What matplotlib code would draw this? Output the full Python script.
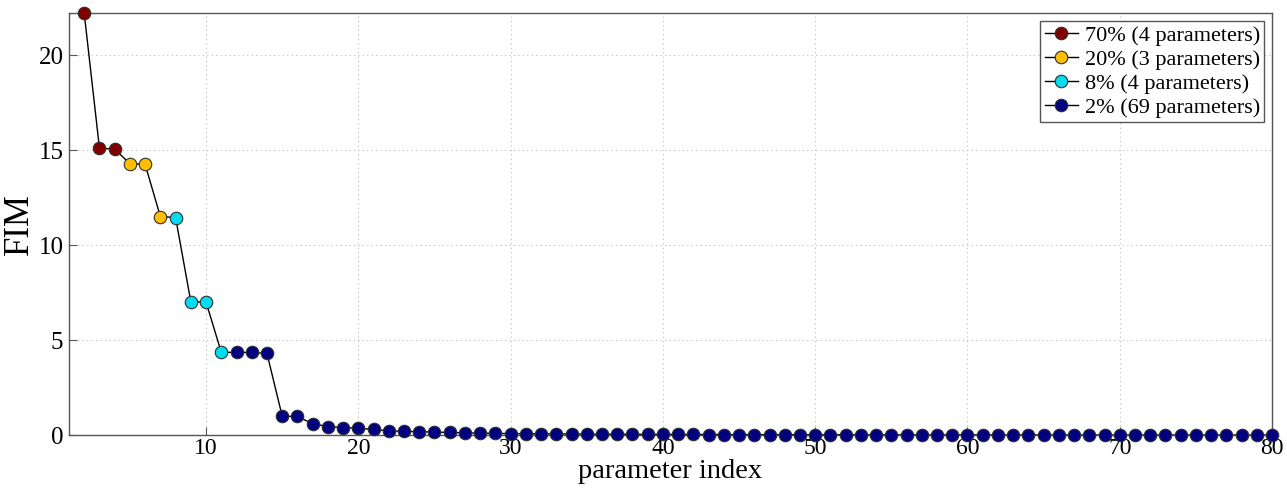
import numpy as np
import matplotlib
matplotlib.use('Agg')
import matplotlib.pyplot as plt

plt.rcParams['font.family'] = ['Liberation Serif', 'DejaVu Serif']
plt.rcParams['mathtext.fontset'] = 'stix'

# FIM values, parameter index 1..80 (index 1 lies above the visible range)
fim = [30.0, 22.2, 15.1, 15.05, 14.28, 14.25, 11.5, 11.45, 7.02, 7.0,
       4.36, 4.35, 4.35, 4.3, 1.0, 0.98, 0.6, 0.45, 0.4, 0.36,
       0.3, 0.22, 0.2, 0.18, 0.16, 0.14, 0.12, 0.1, 0.09, 0.08,
       0.075, 0.07, 0.065, 0.06, 0.055, 0.05, 0.045, 0.042, 0.04, 0.037,
       0.035, 0.033, 0.031, 0.029, 0.027, 0.025, 0.024, 0.023, 0.022, 0.021,
       0.02, 0.019, 0.018, 0.017, 0.016, 0.015, 0.014, 0.013, 0.012, 0.011,
       0.011, 0.01, 0.01, 0.009, 0.009, 0.008, 0.008, 0.007, 0.007, 0.006,
       0.006, 0.005, 0.005, 0.005, 0.004, 0.004, 0.003, 0.003, 0.002, 0.002]
idx = np.arange(1, len(fim) + 1)
fim = np.array(fim)

group_sizes = [4, 3, 4, 69]
group_labels = ['70% (4 parameters)', '20% (3 parameters)',
                '8% (4 parameters)', '2% (69 parameters)']
group_colors = ['#800000', '#ffbf00', '#00dcf0', '#000080']

ymax = 22.2

fig = plt.figure(figsize=(12.87, 4.9), dpi=100)
ax = fig.add_axes([0.0536, 0.112, 0.9348, 0.861])

# black connecting line (clipped)
ax.plot(idx, fim, '-', color='k', lw=1.0, zorder=2)

start = 0
for n, lab, col in zip(group_sizes, group_labels, group_colors):
    xs = idx[start:start + n]
    ys = fim[start:start + n]
    vis = ys <= ymax + 1e-9
    ax.plot(xs[vis], ys[vis], 'o', color='k', mfc=col, mec='#303030',
            mew=0.8, ms=9, ls='none', zorder=3, clip_on=False)
    # legend handle
    ax.plot([], [], '-o', color='k', lw=1.0, mfc=col, mec='#303030',
            mew=0.8, ms=9, label=lab)
    start += n

ax.set_xlim(1, 80)
ax.set_ylim(0, ymax)
ax.set_xticks(np.arange(10, 81, 10))
ax.set_yticks([0, 5, 10, 15, 20])
ax.grid(True, ls=(0, (1, 3)), color='#bbbbbb', lw=0.8)
ax.tick_params(direction='in', length=6, labelsize=18, color='#555555')
ax.tick_params(axis='x', pad=2, labelsize=17)
ax.tick_params(axis='y', pad=4)
for s in ax.spines.values():
    s.set_color('#555555')
    s.set_linewidth(1.0)

ax.set_xlabel('parameter index', fontsize=20.5, labelpad=0)
ax.set_ylabel('FIM', fontsize=25, labelpad=2)

leg = ax.legend(loc='upper right', fontsize=16, frameon=True, fancybox=False,
                edgecolor='#555555', framealpha=1, handlelength=1.5,
                handletextpad=0.3, borderpad=0.2, labelspacing=0.15,
                borderaxespad=0.35)
leg.get_frame().set_linewidth(1.0)

fig.savefig('out.png', dpi=100)
